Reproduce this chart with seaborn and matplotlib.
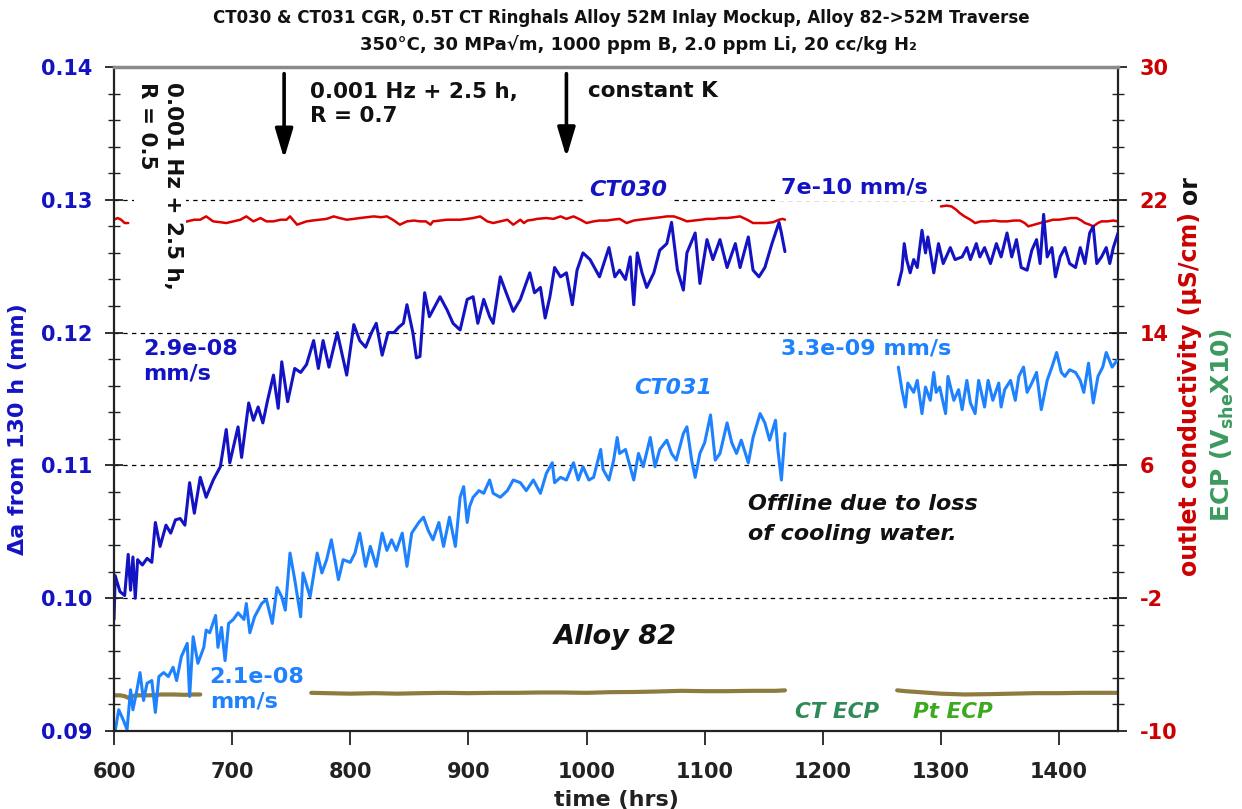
import numpy as np
import pandas as pd
import matplotlib
matplotlib.use("Agg")
import matplotlib.pyplot as plt
from matplotlib.ticker import FixedLocator, FormatStrFormatter
import seaborn as sns

# ---------------------------------------------------------------------------
# Crack extension, delta-a from 130 h (mm), vs time (hrs)
# ---------------------------------------------------------------------------
ct030_hours_1 = [600, 601, 605, 609, 612, 614, 616, 618, 620, 624, 628, 632, 635, 639, 644,
                 648, 652, 656, 660, 664, 668, 673, 678, 684, 690, 695, 698, 705, 708, 714,
                 718, 722, 726, 730, 735, 739, 742, 747, 753, 758, 763, 769, 773, 777, 782,
                 789, 793, 797, 803, 808, 813, 818, 822, 827, 832, 837, 841, 845, 848, 853,
                 856, 859, 863, 867, 876, 882, 887, 893, 899, 904, 908, 913, 918, 921, 927,
                 932, 938, 944, 952, 956, 961, 965, 969, 973, 978, 983, 988, 992, 997, 1003,
                 1011, 1019, 1024, 1028, 1033, 1037, 1040, 1043, 1047, 1051, 1057, 1062, 1068,
                 1072, 1077, 1082, 1085, 1092, 1096, 1102, 1107, 1113, 1119, 1126, 1130, 1137,
                 1141, 1146, 1151, 1157, 1163, 1165, 1168]
ct030_da_1 = [0.0984, 0.1017, 0.1005, 0.1002, 0.1033, 0.1006, 0.1031, 0.1000, 0.1029, 0.1025,
              0.1030, 0.1027, 0.1057, 0.1039, 0.1055, 0.1049, 0.1059, 0.1060, 0.1055, 0.1087,
              0.1064, 0.1091, 0.1076, 0.1089, 0.1099, 0.1127, 0.1102, 0.1129, 0.1106, 0.1147,
              0.1134, 0.1144, 0.1132, 0.1149, 0.1168, 0.1143, 0.1178, 0.1148, 0.1173, 0.1170,
              0.1176, 0.1194, 0.1173, 0.1194, 0.1174, 0.1200, 0.1184, 0.1168, 0.1206, 0.1194,
              0.1189, 0.1200, 0.1207, 0.1183, 0.1200, 0.1200, 0.1204, 0.1207, 0.1221, 0.1200,
              0.1181, 0.1182, 0.1230, 0.1212, 0.1227, 0.1217, 0.1207, 0.1202, 0.1225, 0.1227,
              0.1207, 0.1225, 0.1212, 0.1207, 0.1242, 0.1230, 0.1216, 0.1225, 0.1245, 0.1230,
              0.1234, 0.1211, 0.1227, 0.1249, 0.1242, 0.1245, 0.1221, 0.1247, 0.1260, 0.1255,
              0.1242, 0.1264, 0.1242, 0.1247, 0.1240, 0.1257, 0.1221, 0.1260, 0.1245, 0.1234,
              0.1245, 0.1262, 0.1267, 0.1283, 0.1247, 0.1232, 0.1260, 0.1275, 0.1237, 0.1270,
              0.1255, 0.1270, 0.1249, 0.1267, 0.1249, 0.1272, 0.1247, 0.1242, 0.1249, 0.1267,
              0.1283, 0.1275, 0.1261]
ct030_hours_2 = [1264, 1267, 1269, 1271, 1274, 1277, 1280, 1284, 1287, 1289, 1294, 1298, 1302,
                 1308, 1312, 1318, 1322, 1325, 1330, 1333, 1337, 1342, 1347, 1351, 1356, 1360,
                 1364, 1368, 1373, 1377, 1381, 1384, 1387, 1390, 1394, 1397, 1401, 1405, 1409,
                 1414, 1418, 1422, 1426, 1429, 1432, 1436, 1440, 1443, 1446, 1450]
ct030_da_2 = [0.1236, 0.1247, 0.1267, 0.1255, 0.1245, 0.1255, 0.1249, 0.1277, 0.1260, 0.1272,
              0.1245, 0.1267, 0.1252, 0.1264, 0.1255, 0.1257, 0.1264, 0.1255, 0.1267, 0.1257,
              0.1264, 0.1252, 0.1267, 0.1257, 0.1275, 0.1257, 0.1270, 0.1249, 0.1247, 0.1262,
              0.1270, 0.1252, 0.1289, 0.1257, 0.1264, 0.1242, 0.1257, 0.1264, 0.1252, 0.1249,
              0.1264, 0.1252, 0.1275, 0.1280, 0.1252, 0.1257, 0.1264, 0.1252, 0.1264, 0.1275]

ct031_hours_1 = [600, 604, 608, 611, 614, 616, 619, 622, 625, 628, 632, 635, 638, 642, 646,
                 650, 653, 657, 662, 664, 667, 671, 676, 678, 681, 686, 688, 691, 694, 697,
                 701, 705, 710, 712, 715, 719, 725, 729, 734, 738, 742, 745, 749, 753, 758,
                 760, 766, 772, 776, 780, 784, 790, 794, 800, 804, 808, 813, 817, 822, 827,
                 831, 835, 839, 844, 848, 852, 858, 862, 866, 870, 875, 879, 884, 889, 893,
                 896, 899, 901, 904, 909, 913, 918, 921, 927, 933, 938, 944, 949, 955, 961,
                 966, 971, 973, 978, 983, 989, 993, 997, 1002, 1006, 1012, 1014, 1019, 1023,
                 1026, 1028, 1033, 1037, 1040, 1044, 1048, 1054, 1058, 1062, 1068, 1072, 1076,
                 1082, 1085, 1089, 1092, 1096, 1100, 1105, 1109, 1113, 1119, 1123, 1127, 1131,
                 1137, 1141, 1147, 1151, 1155, 1160, 1162, 1165, 1168]
ct031_da_1 = [0.0895, 0.0916, 0.0908, 0.0901, 0.0931, 0.0916, 0.0929, 0.0944, 0.0923, 0.0936,
              0.0938, 0.0914, 0.0941, 0.0944, 0.0941, 0.0948, 0.0938, 0.0956, 0.0966, 0.0926,
              0.0971, 0.0951, 0.0963, 0.0976, 0.0974, 0.0987, 0.0963, 0.0978, 0.0953, 0.0981,
              0.0984, 0.0989, 0.0984, 0.0996, 0.0974, 0.0986, 0.0996, 0.0999, 0.0981, 0.1008,
              0.1001, 0.0991, 0.1034, 0.1014, 0.0986, 0.1019, 0.1001, 0.1034, 0.1019, 0.1029,
              0.1044, 0.1014, 0.1029, 0.1027, 0.1034, 0.1049, 0.1024, 0.1039, 0.1024, 0.1049,
              0.1036, 0.1044, 0.1036, 0.1049, 0.1024, 0.1049, 0.1057, 0.1061, 0.1051, 0.1044,
              0.1057, 0.1039, 0.1061, 0.1039, 0.1076, 0.1084, 0.1057, 0.1069, 0.1076, 0.1081,
              0.1079, 0.1089, 0.1079, 0.1076, 0.1081, 0.1089, 0.1087, 0.1081, 0.1089, 0.1079,
              0.1094, 0.1102, 0.1087, 0.1091, 0.1089, 0.1102, 0.1089, 0.1099, 0.1089, 0.1091,
              0.1112, 0.1097, 0.1089, 0.1104, 0.1121, 0.1109, 0.1112, 0.1099, 0.1089, 0.1109,
              0.1099, 0.1121, 0.1099, 0.1112, 0.1119, 0.1109, 0.1104, 0.1124, 0.1129, 0.1104,
              0.1091, 0.1109, 0.1117, 0.1138, 0.1104, 0.1109, 0.1132, 0.1117, 0.1109, 0.1119,
              0.1102, 0.1121, 0.1139, 0.1132, 0.1119, 0.1134, 0.1112, 0.1089, 0.1124]
ct031_hours_2 = [1264, 1267, 1270, 1272, 1277, 1280, 1284, 1287, 1291, 1294, 1296, 1299, 1304,
                 1306, 1311, 1315, 1318, 1322, 1325, 1329, 1332, 1335, 1337, 1340, 1344, 1349,
                 1351, 1354, 1359, 1363, 1366, 1370, 1373, 1377, 1381, 1385, 1390, 1394, 1398,
                 1402, 1405, 1409, 1414, 1418, 1421, 1425, 1429, 1433, 1437, 1440, 1445, 1449]
ct031_da_2 = [0.1174, 0.1157, 0.1144, 0.1162, 0.1155, 0.1164, 0.1139, 0.1159, 0.1149, 0.1170,
              0.1155, 0.1159, 0.1139, 0.1167, 0.1149, 0.1157, 0.1142, 0.1164, 0.1147, 0.1139,
              0.1164, 0.1152, 0.1144, 0.1164, 0.1149, 0.1162, 0.1144, 0.1157, 0.1164, 0.1149,
              0.1167, 0.1174, 0.1155, 0.1162, 0.1170, 0.1142, 0.1164, 0.1174, 0.1185, 0.1170,
              0.1167, 0.1172, 0.1170, 0.1164, 0.1155, 0.1177, 0.1147, 0.1167, 0.1174, 0.1185,
              0.1174, 0.1179]

# ---------------------------------------------------------------------------
# Outlet conductivity (uS/cm), right axis
# ---------------------------------------------------------------------------
cond_hours_1 = [600, 603, 606, 609, 612]
cond_1 = [20.8, 20.9, 20.8, 20.6, 20.6]
cond_hours_2 = [656, 662, 668, 673, 678, 684, 690, 695, 701, 707, 712, 718, 724, 729, 735, 741,
                746, 749, 755, 763, 768, 774, 780, 786, 791, 797, 803, 808, 814, 820, 826, 831,
                836, 842, 848, 854, 859, 864, 868, 870, 876, 882, 887, 893, 899, 904, 910, 916,
                921, 927, 933, 938, 944, 947, 950, 955, 958, 966, 972, 978, 983, 989, 995, 1000,
                1006, 1011, 1017, 1022, 1028, 1034, 1040, 1045, 1051, 1057, 1063, 1068, 1074,
                1080, 1085, 1091, 1097, 1102, 1108, 1113, 1119, 1125, 1130, 1136, 1141, 1147,
                1152, 1158, 1163, 1166, 1168]
cond_2 = [20.6, 20.7, 20.8, 20.8, 21.0, 20.7, 20.65, 20.6, 20.7, 20.8, 21.0, 20.7, 20.9, 20.7,
          20.7, 20.8, 20.8, 21.0, 20.5, 20.7, 20.75, 20.8, 20.85, 21.0, 20.9, 20.8, 20.85, 20.9,
          20.95, 21.0, 20.95, 21.0, 20.8, 20.5, 20.7, 20.75, 20.7, 20.7, 20.5, 20.7, 20.75, 20.8,
          20.8, 20.8, 20.85, 20.9, 21.0, 20.7, 20.6, 20.7, 20.8, 20.5, 20.8, 20.6, 20.75, 20.8,
          20.85, 20.9, 20.85, 21.0, 20.85, 21.0, 20.8, 20.6, 20.7, 20.75, 20.75, 20.8, 20.85,
          20.6, 20.75, 20.8, 20.85, 20.9, 20.95, 21.0, 21.0, 20.85, 20.7, 20.75, 20.8, 20.85,
          20.85, 20.9, 20.9, 20.95, 21.0, 20.8, 20.6, 20.6, 20.6, 20.65, 20.8, 20.85, 20.8]
cond_hours_3 = [1300, 1305, 1309, 1313, 1316, 1320, 1325, 1329, 1334, 1339, 1345, 1350, 1356,
                1362, 1367, 1371, 1374, 1379, 1384, 1390, 1395, 1400, 1405, 1410, 1415, 1419,
                1422, 1426, 1429, 1433, 1436, 1441, 1446, 1450]
cond_3 = [21.6, 21.65, 21.6, 21.4, 21.2, 21.0, 20.8, 20.6, 20.7, 20.7, 20.75, 20.7, 20.7, 20.75,
          20.75, 20.6, 20.4, 20.5, 20.6, 20.7, 20.8, 20.8, 20.85, 20.9, 20.9, 20.75, 20.6, 20.5,
          20.4, 20.6, 20.7, 20.7, 20.75, 20.7]

# ---------------------------------------------------------------------------
# ECP (V_she x 10), right axis
# ---------------------------------------------------------------------------
ecp_hours_1 = [600, 605, 609, 612, 615, 620, 630, 640, 650, 660, 667, 673]
ecp_1 = [-7.85, -7.85, -7.9, -8.0, -7.9, -7.85, -7.85, -7.8, -7.8, -7.82, -7.8, -7.8]
ecp_hours_2 = [767, 780, 800, 820, 840, 860, 880, 900, 920, 940, 960, 980, 1000, 1020, 1040,
               1060, 1080, 1100, 1120, 1140, 1160, 1168]
ecp_2 = [-7.7, -7.72, -7.75, -7.72, -7.75, -7.72, -7.7, -7.72, -7.7, -7.7, -7.68, -7.68, -7.7,
         -7.66, -7.65, -7.62, -7.58, -7.6, -7.6, -7.58, -7.58, -7.55]
ecp_hours_3 = [1263, 1270, 1280, 1300, 1320, 1340, 1360, 1380, 1400, 1420, 1440, 1450]
ecp_3 = [-7.55, -7.6, -7.65, -7.75, -7.8, -7.78, -7.75, -7.72, -7.72, -7.7, -7.7, -7.7]

x_ticks = [600, 700, 800, 900, 1000, 1100, 1200, 1300, 1400]
left_ticks = [0.09, 0.10, 0.11, 0.12, 0.13, 0.14]
right_ticks = [-10, -2, 6, 14, 22, 30]

# colours
DARK_BLUE = "#1313c4"
LIGHT_BLUE = "#1e82ff"
RED = "#dd0000"
RED_TXT = "#cc0000"
BROWN = "#8d7b40"
GREEN_CT = "#2e8b57"
GREEN_PT = "#3caa1e"
GREEN_LBL = "#3c9a5f"


def segments(name, parts):
    frames = []
    for i, (h, v) in enumerate(parts):
        frames.append(pd.DataFrame({"time": h, "value": v, "series": name, "segment": i}))
    return pd.concat(frames, ignore_index=True)


crack = pd.concat([
    segments("CT030", [(ct030_hours_1, ct030_da_1), (ct030_hours_2, ct030_da_2)]),
    segments("CT031", [(ct031_hours_1, ct031_da_1), (ct031_hours_2, ct031_da_2)]),
], ignore_index=True)
water = pd.concat([
    segments("cond", [(cond_hours_1, cond_1), (cond_hours_2, cond_2), (cond_hours_3, cond_3)]),
    segments("ecp", [(ecp_hours_1, ecp_1), (ecp_hours_2, ecp_2), (ecp_hours_3, ecp_3)]),
], ignore_index=True)

sns.set_theme(style="white")
plt.rcParams["font.family"] = ["DejaVu Sans"]
plt.rcParams["font.weight"] = "bold"
plt.rcParams["axes.labelweight"] = "bold"
plt.rcParams["mathtext.fontset"] = "dejavusans"

fig = plt.figure(figsize=(12.42, 8.09), dpi=100)
fig.patch.set_facecolor("white")
ax = fig.add_axes([0.0918, 0.0964, 0.8084, 0.8208])
ax2 = ax.twinx()

# right-axis traces: conductivity and ECP
sns.lineplot(data=water[water.series == "cond"], x="time", y="value", units="segment",
             estimator=None, sort=False, color=RED, lw=1.8, ax=ax2, legend=False)
sns.lineplot(data=water[water.series == "ecp"], x="time", y="value", units="segment",
             estimator=None, sort=False, color=BROWN, lw=3.0, ax=ax2, legend=False)

# left-axis traces: crack extension
sns.lineplot(data=crack[crack.series == "CT031"], x="time", y="value", units="segment",
             estimator=None, sort=False, color=LIGHT_BLUE, lw=2.2, ax=ax, legend=False)
sns.lineplot(data=crack[crack.series == "CT030"], x="time", y="value", units="segment",
             estimator=None, sort=False, color=DARK_BLUE, lw=2.2, ax=ax, legend=False)

ax.set_zorder(ax2.get_zorder() + 1)
ax.patch.set_visible(False)

ax.set_xlim(600, 1450)
ax.set_ylim(0.09, 0.14)
ax2.set_ylim(-10, 30)

ax.xaxis.set_major_locator(FixedLocator(x_ticks))
ax.yaxis.set_major_locator(FixedLocator(left_ticks))
ax.yaxis.set_minor_locator(FixedLocator(np.arange(0.09, 0.1401, 0.002)))
ax.yaxis.set_major_formatter(FormatStrFormatter("%.2f"))
ax2.yaxis.set_major_locator(FixedLocator(right_ticks))
ax2.yaxis.set_minor_locator(FixedLocator(np.arange(-10, 30.01, 1.6)))
ax2.yaxis.set_major_formatter(FormatStrFormatter("%d"))

ax.grid(False)
ax2.grid(False)
for v in left_ticks[1:-1]:
    ax.axhline(v, color="black", lw=0.9, ls=(0, (3.5, 3.5)), zorder=0.5)

ax.tick_params(axis="x", which="major", direction="out", length=10, width=1.3,
               labelsize=15, pad=12, colors="#222222", labelcolor="#222222", bottom=True)
ax.tick_params(axis="y", which="major", direction="inout", length=13, width=1.3,
               labelsize=15, pad=9, colors="#222222", labelcolor=DARK_BLUE, left=True)
ax.tick_params(axis="y", which="minor", direction="inout", length=9, width=1.0,
               colors="#222222", left=True)
ax2.tick_params(axis="y", which="major", direction="inout", length=13, width=1.3,
                labelsize=15, pad=9, colors="#222222", labelcolor=RED_TXT, right=True)
ax2.tick_params(axis="y", which="minor", direction="inout", length=9, width=1.0,
                colors="#222222", right=True)

for s in ["left", "bottom"]:
    ax.spines[s].set_color("#222222")
    ax.spines[s].set_linewidth(1.6)
ax.spines["top"].set_color("#8a8a8a")
ax.spines["top"].set_linewidth(2.5)
ax.spines["right"].set_visible(False)
for s in ["left", "bottom", "top"]:
    ax2.spines[s].set_visible(False)
ax2.spines["right"].set_color("#222222")
ax2.spines["right"].set_linewidth(1.6)

ax.set_xlabel("time (hrs)", fontsize=16, color="#222222", labelpad=6)
ax.set_ylabel("")
ax2.set_ylabel("")

# axis titles
fig.text(18 / 1242, 1 - 429 / 809, "Δa from 130 h (mm)", rotation=90, ha="center",
         va="center", color=DARK_BLUE, fontsize=16)
fig.text(1190 / 1242, 1 - 212 / 809, "outlet conductivity (µS/cm)", rotation=90,
         rotation_mode="anchor", ha="right", va="center", color=RED_TXT, fontsize=17)
fig.text(1190 / 1242, 1 - 204 / 809, "or", rotation=90, rotation_mode="anchor",
         ha="left", va="center", color="#111111", fontsize=17)
fig.text(1222 / 1242, 1 - 425 / 809, r"ECP (V$_{\mathbf{she}}$X10)", rotation=90,
         ha="center", va="center", color=GREEN_LBL, fontsize=18)

# figure title
fig.text(0.5, 1 - 18 / 809,
         "CT030 & CT031 CGR, 0.5T CT Ringhals Alloy 52M Inlay Mockup, Alloy 82->52M Traverse",
         ha="center", va="center", fontsize=12, color="#111111")
fig.text(0.514, 1 - 45 / 809, "350°C, 30 MPa√m, 1000 ppm B, 2.0 ppm Li, 20 cc/kg H₂",
         ha="center", va="center", fontsize=13, color="#111111")

white = dict(facecolor="white", edgecolor="none", boxstyle="square,pad=0.15")

# loading-condition annotations
ax.text(639, 0.1389, "0.001 Hz + 2.5 h,\nR = 0.5", rotation=-90, ha="center", va="top",
        fontsize=15.5, color="#111111", linespacing=1.35, multialignment="left", bbox=white)
ax.text(766, 0.1389, "0.001 Hz + 2.5 h,\nR = 0.7", ha="left", va="top", fontsize=15.5,
        color="#111111", linespacing=1.3)
ax.text(1001, 0.1382, "constant K", ha="left", va="center", fontsize=15.5, color="#111111")
arrow = dict(arrowstyle="-|>,head_length=1.2,head_width=0.36", lw=2.6, color="black",
             shrinkA=0, shrinkB=0, mutation_scale=15)
ax.annotate("", xy=(744, 0.1331), xytext=(744, 0.1395), arrowprops=arrow)
ax.annotate("", xy=(983, 0.1332), xytext=(983, 0.1395), arrowprops=arrow)

# series and rate labels
ax.text(1035, 0.1307, "CT030", ha="center", va="center", fontsize=16, style="italic",
        color=DARK_BLUE, bbox=white)
ax.text(1227, 0.1309, "7e-10 mm/s", ha="center", va="center", fontsize=16,
        color=DARK_BLUE, bbox=white)
ax.text(625, 0.1195, "2.9e-08\nmm/s", ha="left", va="top", fontsize=16, color=DARK_BLUE,
        linespacing=1.25, bbox=white)
ax.text(1237, 0.1188, "3.3e-09 mm/s", ha="center", va="center", fontsize=16,
        color=LIGHT_BLUE, bbox=white)
ax.text(1073, 0.1158, "CT031", ha="center", va="center", fontsize=16, style="italic",
        color=LIGHT_BLUE)
ax.text(681, 0.0948, "2.1e-08\nmm/s", ha="left", va="top", fontsize=16, color=LIGHT_BLUE,
        linespacing=1.25)
ax.text(1137, 0.10785, "Offline due to loss\nof cooling water.", ha="left", va="top",
        fontsize=16, style="italic", color="#111111", linespacing=1.6)
ax.text(972, 0.0971, "Alloy 82", ha="left", va="center", fontsize=19.5, style="italic",
        color="#111111")
ax.text(1212, 0.0914, "CT ECP", ha="center", va="center", fontsize=15.5, style="italic",
        color=GREEN_CT)
ax.text(1310, 0.0914, "Pt ECP", ha="center", va="center", fontsize=15.5, style="italic",
        color=GREEN_PT)

fig.savefig("out.png", dpi=100, facecolor="white")
